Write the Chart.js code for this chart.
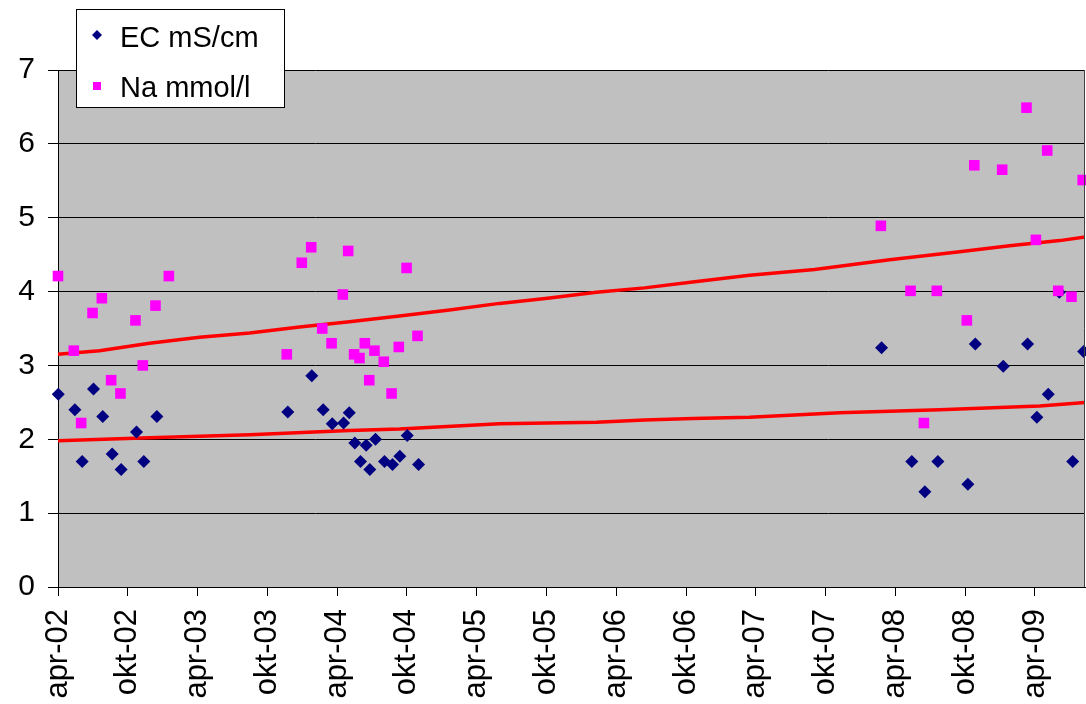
<!DOCTYPE html>
<html>
<head>
<meta charset="utf-8">
<script src="https://cdn.jsdelivr.net/npm/chart.js@4"></script>
<style>
  body { margin: 0; background: #fff; }
  #wrap { width: 1086px; height: 704px; position: relative; }
</style>
</head>
<body>
<div id="wrap"><canvas id="ecChart"></canvas></div>
<script>
// x values are months since apr-02
const tickMonths = [0, 6, 12, 18, 24, 30, 36, 42, 48, 54, 60, 66, 72, 78, 84];
const tickLabels = ['apr-02', 'okt-02', 'apr-03', 'okt-03', 'apr-04', 'okt-04', 'apr-05', 'okt-05',
  'apr-06', 'okt-06', 'apr-07', 'okt-07', 'apr-08', 'okt-08', 'apr-09'];

const ecMonths = [0.02, 1.45, 2.08, 3.05, 3.85, 4.66, 5.43, 6.75, 7.38, 8.5,
  19.76, 21.82, 22.8, 23.58, 24.55, 25.04, 25.52, 26.01, 26.5, 26.81, 27.3, 28.07, 28.76, 29.39, 30.03, 31.0,
  70.81, 73.41, 74.53, 75.65, 78.23, 78.87, 81.27, 83.36, 84.16, 85.14, 86.09, 87.24, 88.18];
const ecValues = [2.61, 2.40, 1.70, 2.68, 2.31, 1.80, 1.59, 2.10, 1.70, 2.31,
  2.37, 2.86, 2.40, 2.21, 2.22, 2.36, 1.95, 1.70, 1.92, 1.59, 2.00, 1.70, 1.66, 1.77, 2.05, 1.66,
  3.24, 1.70, 1.29, 1.70, 1.39, 3.29, 2.99, 3.29, 2.30, 2.61, 3.99, 1.70, 3.19];

const naMonths = [0, 1.36, 1.99, 2.97, 3.77, 4.57, 5.37, 6.66, 7.29, 8.38, 9.53,
  19.67, 20.96, 21.77, 22.72, 23.52, 24.49, 24.95, 25.46, 25.92, 26.38, 26.76, 27.21, 28.01, 28.68, 29.3, 29.97, 30.91,
  70.75, 73.3, 74.45, 75.56, 78.14, 78.78, 81.18, 83.27, 84.08, 85.05, 86.0, 87.14, 88.1];
const naValues = [4.21, 3.20, 2.22, 3.71, 3.91, 2.80, 2.62, 3.61, 3.00, 3.81, 4.21,
  3.15, 4.39, 4.60, 3.50, 3.30, 3.96, 4.55, 3.15, 3.10, 3.30, 2.80, 3.20, 3.05, 2.62, 3.25, 4.32, 3.40,
  4.89, 4.01, 2.22, 4.01, 3.61, 5.71, 5.65, 6.49, 4.70, 5.91, 4.01, 3.93, 5.51];

// red trend lines
const naTrendMonths = [0, 3.57, 7.87, 12.17, 16.47, 20.77, 25.06, 29.36, 33.66, 37.96, 42.09, 46.3,
  50.43, 54.56, 59.46, 65.05, 71.5, 77.52, 81.82, 86.12, 88.35];
const naTrendValues = [3.15, 3.20, 3.30, 3.38, 3.44, 3.52, 3.59, 3.67, 3.75, 3.84, 3.91, 3.99,
  4.05, 4.13, 4.22, 4.30, 4.43, 4.54, 4.62, 4.69, 4.74];
const ecTrendMonths = [0, 7.87, 16.47, 25.06, 29.36, 37.96, 46.3, 50.43, 54.56, 59.46, 67.2, 75.8, 84.4, 88.35];
const ecTrendValues = [1.98, 2.02, 2.06, 2.12, 2.14, 2.21, 2.23, 2.26, 2.28, 2.30, 2.36, 2.40, 2.45, 2.50];

const toPoints = function (xs, ys) {
  let pts = [];
  for (var i = 0; i < xs.length; i++) {
    pts.push({ x: xs[i], y: ys[i] });
  }
  return pts;
};

const fontFamily = '"Liberation Sans", Arial, sans-serif';

// grey plot area + right border
const plotArea = {
  id: 'plotArea',
  beforeDraw(chart) {
    const a = chart.chartArea, ctx = chart.ctx;
    ctx.save();
    ctx.fillStyle = '#C0C0C0';
    ctx.fillRect(a.left, a.top, a.right - a.left, a.bottom - a.top);
    ctx.restore();
  },
  afterDraw(chart) {
    const a = chart.chartArea, ctx = chart.ctx;
    ctx.save();
    ctx.strokeStyle = '#404040';
    ctx.lineWidth = 1;
    ctx.beginPath();
    ctx.moveTo(a.right - 0.5, a.top);
    ctx.lineTo(a.right - 0.5, a.bottom);
    ctx.stroke();
    ctx.restore();
  }
};

// boxed legend overlapping the plot
const boxLegend = {
  id: 'boxLegend',
  afterDraw(chart) {
    const ctx = chart.ctx;
    ctx.save();
    ctx.fillStyle = '#fff';
    ctx.fillRect(76, 9, 208, 98);
    ctx.strokeStyle = '#000';
    ctx.lineWidth = 1;
    ctx.strokeRect(76.5, 9.5, 208, 98);
    // diamond
    ctx.fillStyle = '#000080';
    ctx.beginPath();
    ctx.moveTo(97, 30); ctx.lineTo(102, 35); ctx.lineTo(97, 40); ctx.lineTo(92, 35);
    ctx.closePath();
    ctx.fill();
    // square
    ctx.fillStyle = '#FF00FF';
    ctx.fillRect(93, 82, 8, 8);
    ctx.fillStyle = '#000';
    ctx.font = '29px ' + fontFamily;
    ctx.textBaseline = 'alphabetic';
    ctx.fillText(chart.data.datasets[0].label, 120, 47);
    ctx.fillText(chart.data.datasets[1].label, 120, 97);
    ctx.restore();
  }
};

new Chart(document.getElementById('ecChart'), {
  type: 'scatter',
  data: {
    datasets: [
      {
        label: 'EC mS/cm',
        data: toPoints(ecMonths, ecValues),
        pointStyle: 'rectRot',
        pointRadius: 6.5,
        pointBackgroundColor: '#000080',
        pointBorderColor: '#000080',
        pointBorderWidth: 0,
        clip: false,
        order: 1
      },
      {
        label: 'Na mmol/l',
        data: toPoints(naMonths, naValues),
        pointStyle: 'rect',
        pointRadius: 7.5,
        pointBackgroundColor: '#FF00FF',
        pointBorderColor: '#FF00FF',
        pointBorderWidth: 0,
        clip: false,
        order: 0
      },
      {
        label: 'trend Na',
        data: toPoints(naTrendMonths, naTrendValues),
        showLine: true,
        borderColor: '#FF0000',
        borderWidth: 3.5,
        pointRadius: 0,
        tension: 0,
        order: 2
      },
      {
        label: 'trend EC',
        data: toPoints(ecTrendMonths, ecTrendValues),
        showLine: true,
        borderColor: '#FF0000',
        borderWidth: 3.5,
        pointRadius: 0,
        tension: 0,
        order: 2
      }
    ]
  },
  options: {
    responsive: true,
    maintainAspectRatio: false,
    animation: false,
    events: [],
    layout: { autoPadding: false, padding: { top: 70, right: 1, left: 0, bottom: 0 } },
    plugins: {
      legend: { display: false },
      tooltip: { enabled: false }
    },
    scales: {
      x: {
        type: 'linear',
        min: 0,
        max: 88.3,
        afterFit(scale) {
          scale.height = 117;
          scale.paddingLeft = 0;
          scale.paddingRight = 0;
        },
        afterBuildTicks(scale) {
          scale.ticks = tickMonths.map(v => ({ value: v }));
        },
        border: { color: '#000', width: 1 },
        grid: { drawOnChartArea: false, drawTicks: true, tickLength: 9, color: '#000' },
        ticks: {
          autoSkip: false,
          minRotation: 90,
          maxRotation: 90,
          padding: 13,
          color: '#000',
          font: { family: fontFamily, size: 31 },
          callback: function (value) {
            const i = tickMonths.indexOf(value);
            return i >= 0 ? tickLabels[i] : '';
          }
        }
      },
      y: {
        min: 0,
        max: 7,
        afterFit(scale) {
          scale.width = 58;
          scale.paddingTop = 0;
          scale.paddingBottom = 0;
        },
        border: { color: '#000', width: 1 },
        grid: { color: '#000', lineWidth: 1, tickLength: 10 },
        ticks: {
          stepSize: 1,
          padding: 13,
          color: '#000',
          font: { family: fontFamily, size: 30 }
        }
      }
    }
  },
  plugins: [plotArea, boxLegend]
});
</script>
</body>
</html>
